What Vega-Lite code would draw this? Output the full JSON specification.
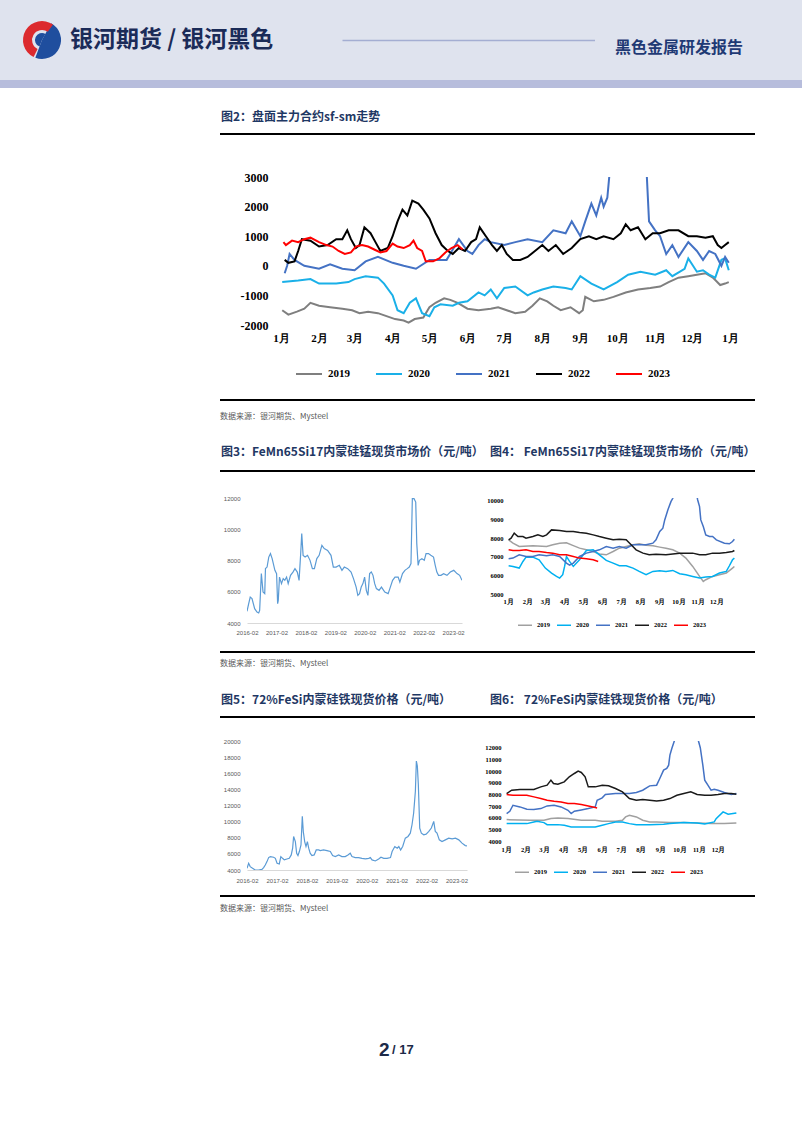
{
"$schema": "https://vega.github.io/schema/vega-lite/v6.json",
"padding": 0,
"background": "#ffffff",
"config": {
  "view": {"stroke": null},
  "axis": {"grid": false, "ticks": false, "domain": false, "labelOverlap": false, "labelFlush": false, "labelBound": false},
  "legend": {"padding": 0},
  "title": {"frame": "group", "anchor": "start", "orient": "top", "font": "Noto Sans CJK SC", "fontWeight": "normal"},
  "font": "Liberation Sans"
},
"resolve": {"scale": {"color": "independent"}},
"datasets": {
"sfsm": [
{"s":"2019","d":"2019-01-02","v":-1500},{"s":"2019","d":"2019-01-07","v":-1650},{"s":"2019","d":"2019-01-14","v":-1550},{"s":"2019","d":"2019-01-20","v":-1450},{"s":"2019","d":"2019-01-25","v":-1250},{"s":"2019","d":"2019-02-01","v":-1350},{"s":"2019","d":"2019-02-10","v":-1400},{"s":"2019","d":"2019-02-20","v":-1450},{"s":"2019","d":"2019-02-28","v":-1500},{"s":"2019","d":"2019-03-05","v":-1600},{"s":"2019","d":"2019-03-12","v":-1550},{"s":"2019","d":"2019-03-20","v":-1600},{"s":"2019","d":"2019-03-27","v":-1700},{"s":"2019","d":"2019-04-03","v":-1800},{"s":"2019","d":"2019-04-10","v":-1850},{"s":"2019","d":"2019-04-14","v":-1920},{"s":"2019","d":"2019-04-19","v":-1800},{"s":"2019","d":"2019-04-26","v":-1750},{"s":"2019","d":"2019-05-01","v":-1400},{"s":"2019","d":"2019-05-06","v":-1250},{"s":"2019","d":"2019-05-13","v":-1100},{"s":"2019","d":"2019-05-18","v":-1150},{"s":"2019","d":"2019-05-24","v":-1250},{"s":"2019","d":"2019-06-01","v":-1450},{"s":"2019","d":"2019-06-10","v":-1500},{"s":"2019","d":"2019-06-20","v":-1450},{"s":"2019","d":"2019-06-26","v":-1400},{"s":"2019","d":"2019-07-03","v":-1500},{"s":"2019","d":"2019-07-10","v":-1600},{"s":"2019","d":"2019-07-18","v":-1550},{"s":"2019","d":"2019-07-24","v":-1350},{"s":"2019","d":"2019-07-30","v":-1100},{"s":"2019","d":"2019-08-05","v":-1200},{"s":"2019","d":"2019-08-10","v":-1350},{"s":"2019","d":"2019-08-16","v":-1500},{"s":"2019","d":"2019-08-24","v":-1400},{"s":"2019","d":"2019-08-31","v":-1600},{"s":"2019","d":"2019-09-03","v":-1500},{"s":"2019","d":"2019-09-05","v":-1050},{"s":"2019","d":"2019-09-12","v":-1200},{"s":"2019","d":"2019-09-20","v":-1150},{"s":"2019","d":"2019-09-28","v":-1050},{"s":"2019","d":"2019-10-08","v":-900},{"s":"2019","d":"2019-10-18","v":-800},{"s":"2019","d":"2019-10-28","v":-750},{"s":"2019","d":"2019-11-05","v":-700},{"s":"2019","d":"2019-11-12","v":-550},{"s":"2019","d":"2019-11-20","v":-400},{"s":"2019","d":"2019-11-28","v":-350},{"s":"2019","d":"2019-12-05","v":-300},{"s":"2019","d":"2019-12-12","v":-250},{"s":"2019","d":"2019-12-18","v":-400},{"s":"2019","d":"2019-12-24","v":-650},{"s":"2019","d":"2019-12-28","v":-600},{"s":"2019","d":"2019-12-31","v":-550},
{"s":"2020","d":"2020-01-02","v":-550},{"s":"2020","d":"2020-01-15","v":-500},{"s":"2020","d":"2020-01-25","v":-450},{"s":"2020","d":"2020-02-01","v":-600},{"s":"2020","d":"2020-02-15","v":-600},{"s":"2020","d":"2020-02-25","v":-550},{"s":"2020","d":"2020-03-01","v":-450},{"s":"2020","d":"2020-03-10","v":-350},{"s":"2020","d":"2020-03-20","v":-400},{"s":"2020","d":"2020-03-25","v":-600},{"s":"2020","d":"2020-04-01","v":-1000},{"s":"2020","d":"2020-04-05","v":-1500},{"s":"2020","d":"2020-04-10","v":-1600},{"s":"2020","d":"2020-04-15","v":-1250},{"s":"2020","d":"2020-04-20","v":-1100},{"s":"2020","d":"2020-04-25","v":-1600},{"s":"2020","d":"2020-05-01","v":-1700},{"s":"2020","d":"2020-05-05","v":-1400},{"s":"2020","d":"2020-05-10","v":-1300},{"s":"2020","d":"2020-05-20","v":-1350},{"s":"2020","d":"2020-05-25","v":-1250},{"s":"2020","d":"2020-06-01","v":-1200},{"s":"2020","d":"2020-06-10","v":-900},{"s":"2020","d":"2020-06-15","v":-1000},{"s":"2020","d":"2020-06-20","v":-800},{"s":"2020","d":"2020-06-25","v":-1100},{"s":"2020","d":"2020-07-01","v":-750},{"s":"2020","d":"2020-07-10","v":-700},{"s":"2020","d":"2020-07-20","v":-1000},{"s":"2020","d":"2020-07-25","v":-900},{"s":"2020","d":"2020-08-01","v":-800},{"s":"2020","d":"2020-08-10","v":-700},{"s":"2020","d":"2020-08-20","v":-750},{"s":"2020","d":"2020-08-25","v":-800},{"s":"2020","d":"2020-09-01","v":-350},{"s":"2020","d":"2020-09-10","v":-600},{"s":"2020","d":"2020-09-20","v":-800},{"s":"2020","d":"2020-10-01","v":-550},{"s":"2020","d":"2020-10-10","v":-300},{"s":"2020","d":"2020-10-20","v":-200},{"s":"2020","d":"2020-11-01","v":-300},{"s":"2020","d":"2020-11-10","v":-150},{"s":"2020","d":"2020-11-15","v":-350},{"s":"2020","d":"2020-11-25","v":-100},{"s":"2020","d":"2020-11-28","v":250},{"s":"2020","d":"2020-12-05","v":-200},{"s":"2020","d":"2020-12-10","v":-150},{"s":"2020","d":"2020-12-15","v":-300},{"s":"2020","d":"2020-12-20","v":-400},{"s":"2020","d":"2020-12-25","v":200},{"s":"2020","d":"2020-12-28","v":250},{"s":"2020","d":"2020-12-31","v":-150},
{"s":"2021","d":"2021-01-04","v":-250},{"s":"2021","d":"2021-01-06","v":0},{"s":"2021","d":"2021-01-08","v":400},{"s":"2021","d":"2021-01-12","v":200},{"s":"2021","d":"2021-01-20","v":0},{"s":"2021","d":"2021-02-01","v":-100},{"s":"2021","d":"2021-02-10","v":50},{"s":"2021","d":"2021-02-20","v":-100},{"s":"2021","d":"2021-03-01","v":-150},{"s":"2021","d":"2021-03-10","v":150},{"s":"2021","d":"2021-03-20","v":300},{"s":"2021","d":"2021-04-01","v":100},{"s":"2021","d":"2021-04-10","v":0},{"s":"2021","d":"2021-04-20","v":-100},{"s":"2021","d":"2021-05-01","v":200},{"s":"2021","d":"2021-05-15","v":200},{"s":"2021","d":"2021-05-25","v":900},{"s":"2021","d":"2021-06-01","v":500},{"s":"2021","d":"2021-06-05","v":400},{"s":"2021","d":"2021-06-10","v":700},{"s":"2021","d":"2021-06-15","v":900},{"s":"2021","d":"2021-06-20","v":800},{"s":"2021","d":"2021-07-01","v":700},{"s":"2021","d":"2021-07-10","v":800},{"s":"2021","d":"2021-07-20","v":900},{"s":"2021","d":"2021-08-01","v":800},{"s":"2021","d":"2021-08-10","v":1200},{"s":"2021","d":"2021-08-20","v":1100},{"s":"2021","d":"2021-08-25","v":1500},{"s":"2021","d":"2021-09-01","v":1000},{"s":"2021","d":"2021-09-05","v":1500},{"s":"2021","d":"2021-09-10","v":2100},{"s":"2021","d":"2021-09-14","v":1700},{"s":"2021","d":"2021-09-18","v":2300},{"s":"2021","d":"2021-09-20","v":2000},{"s":"2021","d":"2021-09-23","v":2300},{"s":"2021","d":"2021-09-25","v":3200},{"s":"2021","d":"2021-10-10","v":5500},{"s":"2021","d":"2021-10-20","v":5000},{"s":"2021","d":"2021-10-25","v":3200},{"s":"2021","d":"2021-10-27","v":1500},{"s":"2021","d":"2021-11-01","v":1200},{"s":"2021","d":"2021-11-05","v":1000},{"s":"2021","d":"2021-11-10","v":400},{"s":"2021","d":"2021-11-15","v":700},{"s":"2021","d":"2021-11-20","v":300},{"s":"2021","d":"2021-11-28","v":800},{"s":"2021","d":"2021-12-05","v":500},{"s":"2021","d":"2021-12-10","v":200},{"s":"2021","d":"2021-12-15","v":500},{"s":"2021","d":"2021-12-20","v":400},{"s":"2021","d":"2021-12-25","v":0},{"s":"2021","d":"2021-12-28","v":300},{"s":"2021","d":"2021-12-31","v":100},
{"s":"2022","d":"2022-01-04","v":200},{"s":"2022","d":"2022-01-07","v":100},{"s":"2022","d":"2022-01-12","v":150},{"s":"2022","d":"2022-01-15","v":500},{"s":"2022","d":"2022-01-18","v":900},{"s":"2022","d":"2022-01-25","v":850},{"s":"2022","d":"2022-02-01","v":650},{"s":"2022","d":"2022-02-08","v":700},{"s":"2022","d":"2022-02-15","v":900},{"s":"2022","d":"2022-02-20","v":900},{"s":"2022","d":"2022-02-24","v":1200},{"s":"2022","d":"2022-02-27","v":900},{"s":"2022","d":"2022-03-02","v":600},{"s":"2022","d":"2022-03-05","v":700},{"s":"2022","d":"2022-03-09","v":1300},{"s":"2022","d":"2022-03-14","v":1100},{"s":"2022","d":"2022-03-18","v":800},{"s":"2022","d":"2022-03-22","v":500},{"s":"2022","d":"2022-03-28","v":600},{"s":"2022","d":"2022-04-01","v":1000},{"s":"2022","d":"2022-04-05","v":1500},{"s":"2022","d":"2022-04-09","v":1900},{"s":"2022","d":"2022-04-13","v":1700},{"s":"2022","d":"2022-04-17","v":2200},{"s":"2022","d":"2022-04-22","v":2100},{"s":"2022","d":"2022-04-26","v":1900},{"s":"2022","d":"2022-05-01","v":1600},{"s":"2022","d":"2022-05-06","v":1100},{"s":"2022","d":"2022-05-11","v":700},{"s":"2022","d":"2022-05-16","v":500},{"s":"2022","d":"2022-05-20","v":400},{"s":"2022","d":"2022-05-25","v":600},{"s":"2022","d":"2022-05-30","v":500},{"s":"2022","d":"2022-06-04","v":800},{"s":"2022","d":"2022-06-08","v":900},{"s":"2022","d":"2022-06-11","v":1300},{"s":"2022","d":"2022-06-16","v":1000},{"s":"2022","d":"2022-06-21","v":700},{"s":"2022","d":"2022-06-25","v":500},{"s":"2022","d":"2022-06-29","v":700},{"s":"2022","d":"2022-07-03","v":400},{"s":"2022","d":"2022-07-08","v":200},{"s":"2022","d":"2022-07-14","v":200},{"s":"2022","d":"2022-07-20","v":300},{"s":"2022","d":"2022-07-26","v":500},{"s":"2022","d":"2022-08-01","v":700},{"s":"2022","d":"2022-08-06","v":500},{"s":"2022","d":"2022-08-12","v":700},{"s":"2022","d":"2022-08-18","v":400},{"s":"2022","d":"2022-08-25","v":600},{"s":"2022","d":"2022-09-01","v":900},{"s":"2022","d":"2022-09-08","v":1000},{"s":"2022","d":"2022-09-14","v":900},{"s":"2022","d":"2022-09-20","v":1000},{"s":"2022","d":"2022-09-28","v":900},{"s":"2022","d":"2022-10-04","v":1100},{"s":"2022","d":"2022-10-08","v":1400},{"s":"2022","d":"2022-10-12","v":1200},{"s":"2022","d":"2022-10-18","v":1300},{"s":"2022","d":"2022-10-24","v":900},{"s":"2022","d":"2022-10-30","v":1100},{"s":"2022","d":"2022-11-05","v":1100},{"s":"2022","d":"2022-11-12","v":1200},{"s":"2022","d":"2022-11-20","v":1200},{"s":"2022","d":"2022-11-28","v":1000},{"s":"2022","d":"2022-12-05","v":1000},{"s":"2022","d":"2022-12-12","v":950},{"s":"2022","d":"2022-12-18","v":1000},{"s":"2022","d":"2022-12-22","v":700},{"s":"2022","d":"2022-12-25","v":600},{"s":"2022","d":"2022-12-28","v":700},{"s":"2022","d":"2022-12-31","v":800},
{"s":"2023","d":"2023-01-03","v":800},{"s":"2023","d":"2023-01-05","v":700},{"s":"2023","d":"2023-01-10","v":850},{"s":"2023","d":"2023-01-15","v":800},{"s":"2023","d":"2023-01-20","v":900},{"s":"2023","d":"2023-01-25","v":950},{"s":"2023","d":"2023-02-01","v":800},{"s":"2023","d":"2023-02-07","v":700},{"s":"2023","d":"2023-02-12","v":650},{"s":"2023","d":"2023-02-17","v":500},{"s":"2023","d":"2023-02-22","v":400},{"s":"2023","d":"2023-02-27","v":450},{"s":"2023","d":"2023-03-02","v":650},{"s":"2023","d":"2023-03-07","v":700},{"s":"2023","d":"2023-03-12","v":650},{"s":"2023","d":"2023-03-17","v":550},{"s":"2023","d":"2023-03-22","v":450},{"s":"2023","d":"2023-03-27","v":500},{"s":"2023","d":"2023-04-01","v":750},{"s":"2023","d":"2023-04-05","v":650},{"s":"2023","d":"2023-04-10","v":600},{"s":"2023","d":"2023-04-15","v":700},{"s":"2023","d":"2023-04-18","v":850},{"s":"2023","d":"2023-04-21","v":600},{"s":"2023","d":"2023-04-25","v":500},{"s":"2023","d":"2023-04-28","v":150},{"s":"2023","d":"2023-05-04","v":150},{"s":"2023","d":"2023-05-09","v":250},{"s":"2023","d":"2023-05-14","v":450},{"s":"2023","d":"2023-05-19","v":600},{"s":"2023","d":"2023-05-24","v":700},{"s":"2023","d":"2023-05-28","v":550}
],
"mnspot": [
{"d":"2016-02-01","v":4750},{"d":"2016-02-22","v":5240},{"d":"2016-03-12","v":5660},{"d":"2016-04-03","v":5560},{"d":"2016-05-06","v":4920},{"d":"2016-06-04","v":4700},{"d":"2016-06-25","v":4640},{"d":"2016-07-07","v":4810},{"d":"2016-07-28","v":7160},{"d":"2016-08-18","v":5980},{"d":"2016-09-08","v":5880},{"d":"2016-09-17","v":7480},{"d":"2016-10-07","v":7580},{"d":"2016-10-28","v":8220},{"d":"2016-11-18","v":8440},{"d":"2016-12-09","v":8120},{"d":"2017-01-12","v":7370},{"d":"2017-02-02","v":7160},{"d":"2017-02-15","v":5240},{"d":"2017-02-23","v":5450},{"d":"2017-03-10","v":6940},{"d":"2017-04-04","v":6520},{"d":"2017-04-25","v":6840},{"d":"2017-05-15","v":6730},{"d":"2017-06-06","v":6940},{"d":"2017-06-26","v":6520},{"d":"2017-07-25","v":7050},{"d":"2017-08-24","v":7260},{"d":"2017-09-18","v":7480},{"d":"2017-10-17","v":7260},{"d":"2017-11-08","v":6730},{"d":"2017-11-28","v":8440},{"d":"2017-12-11","v":9720},{"d":"2017-12-28","v":8330},{"d":"2018-01-22","v":8220},{"d":"2018-02-21","v":8330},{"d":"2018-03-24","v":8010},{"d":"2018-04-22","v":7480},{"d":"2018-05-17","v":7480},{"d":"2018-06-16","v":8120},{"d":"2018-07-15","v":8330},{"d":"2018-08-18","v":8970},{"d":"2018-09-16","v":8760},{"d":"2018-10-28","v":8650},{"d":"2018-12-09","v":8330},{"d":"2019-01-07","v":7580},{"d":"2019-02-10","v":7580},{"d":"2019-03-22","v":7690},{"d":"2019-04-24","v":7370},{"d":"2019-05-23","v":7580},{"d":"2019-07-04","v":7480},{"d":"2019-08-15","v":7260},{"d":"2019-09-14","v":6840},{"d":"2019-10-17","v":6300},{"d":"2019-11-07","v":5770},{"d":"2019-11-28","v":5880},{"d":"2019-12-19","v":6300},{"d":"2020-01-09","v":6520},{"d":"2020-01-30","v":6940},{"d":"2020-02-20","v":6090},{"d":"2020-03-11","v":5770},{"d":"2020-04-01","v":7160},{"d":"2020-04-22","v":7260},{"d":"2020-05-13","v":7050},{"d":"2020-06-03","v":6520},{"d":"2020-06-24","v":6200},{"d":"2020-07-27","v":6090},{"d":"2020-08-26","v":6300},{"d":"2020-10-06","v":5980},{"d":"2020-11-17","v":5880},{"d":"2020-12-08","v":6200},{"d":"2021-01-11","v":6730},{"d":"2021-02-10","v":6940},{"d":"2021-03-21","v":6940},{"d":"2021-04-11","v":6620},{"d":"2021-05-14","v":7160},{"d":"2021-06-13","v":7370},{"d":"2021-07-12","v":7480},{"d":"2021-08-06","v":7580},{"d":"2021-08-27","v":7800},{"d":"2021-09-13","v":11960},{"d":"2021-10-04","v":11960},{"d":"2021-10-25","v":11740},{"d":"2021-11-07","v":9080},{"d":"2021-11-24","v":7690},{"d":"2021-12-10","v":8010},{"d":"2022-01-09","v":8120},{"d":"2022-02-08","v":8010},{"d":"2022-03-02","v":8440},{"d":"2022-04-01","v":8440},{"d":"2022-04-30","v":8330},{"d":"2022-06-03","v":8220},{"d":"2022-06-24","v":7690},{"d":"2022-07-14","v":7260},{"d":"2022-08-04","v":7050},{"d":"2022-09-03","v":7050},{"d":"2022-10-06","v":7160},{"d":"2022-11-17","v":7050},{"d":"2022-12-28","v":7260},{"d":"2023-02-09","v":7370},{"d":"2023-03-21","v":7160},{"d":"2023-04-23","v":7050},{"d":"2023-05-22","v":6730}
],
"sispot": [
{"d":"2016-02-01","v":4210},{"d":"2016-02-21","v":4830},{"d":"2016-03-11","v":4420},{"d":"2016-04-09","v":4210},{"d":"2016-05-11","v":4000},{"d":"2016-06-21","v":3980},{"d":"2016-08-01","v":4080},{"d":"2016-08-22","v":4290},{"d":"2016-09-11","v":4620},{"d":"2016-10-02","v":5040},{"d":"2016-10-22","v":5540},{"d":"2016-11-12","v":5660},{"d":"2016-12-22","v":5580},{"d":"2017-01-12","v":5450},{"d":"2017-02-02","v":4830},{"d":"2017-03-01","v":4750},{"d":"2017-03-20","v":5660},{"d":"2017-04-10","v":5450},{"d":"2017-05-01","v":5250},{"d":"2017-06-02","v":5370},{"d":"2017-07-01","v":5450},{"d":"2017-07-25","v":5870},{"d":"2017-08-11","v":6700},{"d":"2017-08-23","v":8160},{"d":"2017-09-13","v":7530},{"d":"2017-09-29","v":6080},{"d":"2017-10-15","v":5790},{"d":"2017-11-01","v":6290},{"d":"2017-11-21","v":7120},{"d":"2017-12-07","v":10650},{"d":"2017-12-19","v":8780},{"d":"2018-01-05","v":7530},{"d":"2018-01-21","v":6910},{"d":"2018-02-07","v":7530},{"d":"2018-02-23","v":6700},{"d":"2018-03-13","v":6080},{"d":"2018-04-03","v":5790},{"d":"2018-05-01","v":5870},{"d":"2018-05-26","v":6490},{"d":"2018-06-24","v":6490},{"d":"2018-07-14","v":6410},{"d":"2018-08-24","v":6490},{"d":"2018-10-04","v":6410},{"d":"2018-11-14","v":6290},{"d":"2018-12-12","v":5790},{"d":"2019-01-14","v":5660},{"d":"2019-02-24","v":5870},{"d":"2019-04-04","v":5660},{"d":"2019-05-15","v":5660},{"d":"2019-06-17","v":5870},{"d":"2019-07-15","v":6080},{"d":"2019-08-05","v":5660},{"d":"2019-09-15","v":5540},{"d":"2019-10-25","v":5540},{"d":"2019-12-05","v":5450},{"d":"2020-01-16","v":5370},{"d":"2020-02-26","v":5450},{"d":"2020-03-16","v":5540},{"d":"2020-04-06","v":5250},{"d":"2020-05-16","v":5120},{"d":"2020-06-26","v":5370},{"d":"2020-07-24","v":5580},{"d":"2020-08-27","v":5450},{"d":"2020-10-06","v":5450},{"d":"2020-11-17","v":5540},{"d":"2020-12-07","v":6290},{"d":"2021-01-09","v":6910},{"d":"2021-02-07","v":6700},{"d":"2021-02-27","v":6910},{"d":"2021-03-21","v":6490},{"d":"2021-04-15","v":6910},{"d":"2021-05-17","v":7950},{"d":"2021-06-19","v":8160},{"d":"2021-07-17","v":8570},{"d":"2021-08-07","v":9610},{"d":"2021-08-27","v":11070},{"d":"2021-09-17","v":13770},{"d":"2021-09-29","v":17510},{"d":"2021-10-11","v":16880},{"d":"2021-10-23","v":14600},{"d":"2021-11-09","v":9200},{"d":"2021-11-29","v":8570},{"d":"2021-12-28","v":8360},{"d":"2022-01-26","v":8450},{"d":"2022-02-28","v":8780},{"d":"2022-03-31","v":9200},{"d":"2022-04-29","v":10030},{"d":"2022-05-18","v":8780},{"d":"2022-06-08","v":8570},{"d":"2022-07-06","v":7740},{"d":"2022-08-08","v":7530},{"d":"2022-09-18","v":7740},{"d":"2022-10-29","v":7950},{"d":"2022-12-09","v":7870},{"d":"2023-01-19","v":7950},{"d":"2023-03-01","v":7740},{"d":"2023-04-09","v":7330},{"d":"2023-05-19","v":7030},{"d":"2023-06-09","v":6990}
],
"mnseason": [
{"s":"2019","d":"2019-01-02","v":7911},{"s":"2019","d":"2019-01-09","v":7732},{"s":"2019","d":"2019-01-19","v":7554},{"s":"2019","d":"2019-02-10","v":7589},{"s":"2019","d":"2019-03-03","v":7554},{"s":"2019","d":"2019-03-13","v":7643},{"s":"2019","d":"2019-03-24","v":7732},{"s":"2019","d":"2019-04-04","v":7750},{"s":"2019","d":"2019-04-15","v":7600},{"s":"2019","d":"2019-04-25","v":7464},{"s":"2019","d":"2019-05-06","v":7375},{"s":"2019","d":"2019-05-17","v":7286},{"s":"2019","d":"2019-05-27","v":7150},{"s":"2019","d":"2019-06-07","v":7107},{"s":"2019","d":"2019-06-18","v":7286},{"s":"2019","d":"2019-06-28","v":7464},{"s":"2019","d":"2019-07-09","v":7554},{"s":"2019","d":"2019-07-20","v":7643},{"s":"2019","d":"2019-07-30","v":7696},{"s":"2019","d":"2019-08-10","v":7620},{"s":"2019","d":"2019-08-21","v":7589},{"s":"2019","d":"2019-09-01","v":7520},{"s":"2019","d":"2019-09-11","v":7464},{"s":"2019","d":"2019-09-22","v":7375},{"s":"2019","d":"2019-10-03","v":7196},{"s":"2019","d":"2019-10-13","v":6929},{"s":"2019","d":"2019-10-24","v":6482},{"s":"2019","d":"2019-11-04","v":5946},{"s":"2019","d":"2019-11-10","v":5679},{"s":"2019","d":"2019-11-14","v":5768},{"s":"2019","d":"2019-11-25","v":5946},{"s":"2019","d":"2019-12-06","v":6036},{"s":"2019","d":"2019-12-17","v":6125},{"s":"2019","d":"2019-12-27","v":6393},{"s":"2019","d":"2019-12-30","v":6480},
{"s":"2020","d":"2020-01-02","v":6518},{"s":"2020","d":"2020-01-09","v":6480},{"s":"2020","d":"2020-01-19","v":6393},{"s":"2020","d":"2020-01-25","v":6750},{"s":"2020","d":"2020-01-30","v":6982},{"s":"2020","d":"2020-02-10","v":6982},{"s":"2020","d":"2020-02-20","v":6839},{"s":"2020","d":"2020-03-01","v":6393},{"s":"2020","d":"2020-03-11","v":6125},{"s":"2020","d":"2020-03-19","v":5946},{"s":"2020","d":"2020-03-24","v":5857},{"s":"2020","d":"2020-03-29","v":6036},{"s":"2020","d":"2020-04-01","v":6482},{"s":"2020","d":"2020-04-04","v":7018},{"s":"2020","d":"2020-04-09","v":6750},{"s":"2020","d":"2020-04-15","v":6482},{"s":"2020","d":"2020-04-25","v":6839},{"s":"2020","d":"2020-05-06","v":7339},{"s":"2020","d":"2020-05-17","v":7375},{"s":"2020","d":"2020-05-27","v":7107},{"s":"2020","d":"2020-06-07","v":6804},{"s":"2020","d":"2020-06-18","v":6661},{"s":"2020","d":"2020-06-28","v":6518},{"s":"2020","d":"2020-07-09","v":6518},{"s":"2020","d":"2020-07-20","v":6393},{"s":"2020","d":"2020-07-30","v":6214},{"s":"2020","d":"2020-08-10","v":6036},{"s":"2020","d":"2020-08-21","v":6214},{"s":"2020","d":"2020-09-01","v":6250},{"s":"2020","d":"2020-09-11","v":6214},{"s":"2020","d":"2020-09-22","v":6268},{"s":"2020","d":"2020-10-03","v":6089},{"s":"2020","d":"2020-10-13","v":6036},{"s":"2020","d":"2020-10-24","v":5946},{"s":"2020","d":"2020-11-04","v":5857},{"s":"2020","d":"2020-11-14","v":5911},{"s":"2020","d":"2020-11-25","v":5946},{"s":"2020","d":"2020-12-06","v":6125},{"s":"2020","d":"2020-12-17","v":6214},{"s":"2020","d":"2020-12-22","v":6518},{"s":"2020","d":"2020-12-27","v":6839},{"s":"2020","d":"2020-12-30","v":6929},
{"s":"2021","d":"2021-01-02","v":6893},{"s":"2021","d":"2021-01-09","v":6929},{"s":"2021","d":"2021-01-19","v":7107},{"s":"2021","d":"2021-01-30","v":7018},{"s":"2021","d":"2021-02-10","v":7018},{"s":"2021","d":"2021-02-20","v":7107},{"s":"2021","d":"2021-03-03","v":7054},{"s":"2021","d":"2021-03-13","v":7107},{"s":"2021","d":"2021-03-24","v":7018},{"s":"2021","d":"2021-04-04","v":6661},{"s":"2021","d":"2021-04-09","v":6554},{"s":"2021","d":"2021-04-15","v":6661},{"s":"2021","d":"2021-04-25","v":7018},{"s":"2021","d":"2021-05-06","v":7196},{"s":"2021","d":"2021-05-17","v":7286},{"s":"2021","d":"2021-05-27","v":7375},{"s":"2021","d":"2021-06-07","v":7554},{"s":"2021","d":"2021-06-18","v":7464},{"s":"2021","d":"2021-06-28","v":7554},{"s":"2021","d":"2021-07-09","v":7464},{"s":"2021","d":"2021-07-20","v":7643},{"s":"2021","d":"2021-07-30","v":7643},{"s":"2021","d":"2021-08-10","v":7643},{"s":"2021","d":"2021-08-21","v":7732},{"s":"2021","d":"2021-08-26","v":7911},{"s":"2021","d":"2021-09-01","v":8357},{"s":"2021","d":"2021-09-06","v":8536},{"s":"2021","d":"2021-09-09","v":8982},{"s":"2021","d":"2021-09-14","v":9518},{"s":"2021","d":"2021-09-19","v":9964},{"s":"2021","d":"2021-09-22","v":10143},{"s":"2021","d":"2021-10-03","v":11500},{"s":"2021","d":"2021-10-13","v":12500},{"s":"2021","d":"2021-10-24","v":11500},{"s":"2021","d":"2021-11-01","v":10054},{"s":"2021","d":"2021-11-04","v":9696},{"s":"2021","d":"2021-11-06","v":8982},{"s":"2021","d":"2021-11-10","v":8625},{"s":"2021","d":"2021-11-14","v":8179},{"s":"2021","d":"2021-11-20","v":8089},{"s":"2021","d":"2021-11-25","v":8089},{"s":"2021","d":"2021-12-01","v":7911},{"s":"2021","d":"2021-12-14","v":7732},{"s":"2021","d":"2021-12-22","v":7700},{"s":"2021","d":"2021-12-27","v":7821},{"s":"2021","d":"2021-12-30","v":7946},
{"s":"2022","d":"2022-01-02","v":7911},{"s":"2022","d":"2022-01-06","v":8000},{"s":"2022","d":"2022-01-11","v":8268},{"s":"2022","d":"2022-01-17","v":8089},{"s":"2022","d":"2022-01-25","v":8089},{"s":"2022","d":"2022-01-30","v":8000},{"s":"2022","d":"2022-02-10","v":8089},{"s":"2022","d":"2022-02-18","v":8179},{"s":"2022","d":"2022-02-26","v":8089},{"s":"2022","d":"2022-03-03","v":8179},{"s":"2022","d":"2022-03-11","v":8446},{"s":"2022","d":"2022-03-24","v":8411},{"s":"2022","d":"2022-04-04","v":8357},{"s":"2022","d":"2022-04-15","v":8357},{"s":"2022","d":"2022-04-25","v":8304},{"s":"2022","d":"2022-05-06","v":8268},{"s":"2022","d":"2022-05-17","v":8179},{"s":"2022","d":"2022-05-27","v":8089},{"s":"2022","d":"2022-06-07","v":8000},{"s":"2022","d":"2022-06-18","v":7911},{"s":"2022","d":"2022-06-28","v":7946},{"s":"2022","d":"2022-07-09","v":7911},{"s":"2022","d":"2022-07-17","v":7643},{"s":"2022","d":"2022-07-25","v":7375},{"s":"2022","d":"2022-08-05","v":7196},{"s":"2022","d":"2022-08-15","v":7107},{"s":"2022","d":"2022-08-26","v":7143},{"s":"2022","d":"2022-09-11","v":7107},{"s":"2022","d":"2022-10-03","v":7196},{"s":"2022","d":"2022-10-13","v":7196},{"s":"2022","d":"2022-10-24","v":7196},{"s":"2022","d":"2022-11-04","v":7107},{"s":"2022","d":"2022-11-14","v":7107},{"s":"2022","d":"2022-11-25","v":7196},{"s":"2022","d":"2022-12-06","v":7196},{"s":"2022","d":"2022-12-17","v":7232},{"s":"2022","d":"2022-12-27","v":7286},{"s":"2022","d":"2022-12-30","v":7339},
{"s":"2023","d":"2023-01-02","v":7375},{"s":"2023","d":"2023-01-09","v":7339},{"s":"2023","d":"2023-01-19","v":7339},{"s":"2023","d":"2023-01-30","v":7375},{"s":"2023","d":"2023-02-10","v":7286},{"s":"2023","d":"2023-02-20","v":7286},{"s":"2023","d":"2023-03-03","v":7232},{"s":"2023","d":"2023-03-13","v":7196},{"s":"2023","d":"2023-03-24","v":7107},{"s":"2023","d":"2023-04-04","v":7107},{"s":"2023","d":"2023-04-15","v":7018},{"s":"2023","d":"2023-04-25","v":6929},{"s":"2023","d":"2023-05-06","v":6893},{"s":"2023","d":"2023-05-17","v":6839},{"s":"2023","d":"2023-05-25","v":6750}
],
"siseason": [
{"s":"2019","d":"2019-01-02","v":5835},{"s":"2019","d":"2019-02-08","v":5778},{"s":"2019","d":"2019-03-01","v":5778},{"s":"2019","d":"2019-03-12","v":5921},{"s":"2019","d":"2019-03-23","v":5978},{"s":"2019","d":"2019-04-08","v":5921},{"s":"2019","d":"2019-04-29","v":5778},{"s":"2019","d":"2019-05-21","v":5778},{"s":"2019","d":"2019-06-01","v":5692},{"s":"2019","d":"2019-06-22","v":5692},{"s":"2019","d":"2019-07-03","v":5778},{"s":"2019","d":"2019-07-08","v":6065},{"s":"2019","d":"2019-07-14","v":6208},{"s":"2019","d":"2019-07-25","v":6065},{"s":"2019","d":"2019-08-04","v":5778},{"s":"2019","d":"2019-08-15","v":5634},{"s":"2019","d":"2019-08-26","v":5634},{"s":"2019","d":"2019-09-16","v":5577},{"s":"2019","d":"2019-10-08","v":5577},{"s":"2019","d":"2019-10-29","v":5548},{"s":"2019","d":"2019-11-20","v":5491},{"s":"2019","d":"2019-12-11","v":5491},{"s":"2019","d":"2019-12-30","v":5548},
{"s":"2020","d":"2020-01-02","v":5491},{"s":"2020","d":"2020-02-03","v":5491},{"s":"2020","d":"2020-02-14","v":5634},{"s":"2020","d":"2020-02-19","v":5692},{"s":"2020","d":"2020-03-01","v":5577},{"s":"2020","d":"2020-03-06","v":5405},{"s":"2020","d":"2020-03-23","v":5405},{"s":"2020","d":"2020-04-02","v":5348},{"s":"2020","d":"2020-04-13","v":5204},{"s":"2020","d":"2020-05-21","v":5204},{"s":"2020","d":"2020-06-01","v":5348},{"s":"2020","d":"2020-06-11","v":5491},{"s":"2020","d":"2020-06-22","v":5634},{"s":"2020","d":"2020-07-03","v":5634},{"s":"2020","d":"2020-07-14","v":5491},{"s":"2020","d":"2020-07-25","v":5405},{"s":"2020","d":"2020-08-15","v":5405},{"s":"2020","d":"2020-09-06","v":5434},{"s":"2020","d":"2020-09-16","v":5491},{"s":"2020","d":"2020-10-08","v":5577},{"s":"2020","d":"2020-10-29","v":5548},{"s":"2020","d":"2020-11-10","v":5462},{"s":"2020","d":"2020-11-25","v":5634},{"s":"2020","d":"2020-11-28","v":5921},{"s":"2020","d":"2020-12-09","v":6495},{"s":"2020","d":"2020-12-17","v":6294},{"s":"2020","d":"2020-12-30","v":6409},
{"s":"2021","d":"2021-01-02","v":6351},{"s":"2021","d":"2021-01-07","v":6552},{"s":"2021","d":"2021-01-12","v":7068},{"s":"2021","d":"2021-01-23","v":6925},{"s":"2021","d":"2021-02-03","v":6724},{"s":"2021","d":"2021-02-14","v":6695},{"s":"2021","d":"2021-02-25","v":6781},{"s":"2021","d":"2021-03-06","v":7011},{"s":"2021","d":"2021-03-17","v":7068},{"s":"2021","d":"2021-03-28","v":6925},{"s":"2021","d":"2021-04-08","v":6638},{"s":"2021","d":"2021-04-13","v":6351},{"s":"2021","d":"2021-04-18","v":6552},{"s":"2021","d":"2021-04-29","v":6667},{"s":"2021","d":"2021-05-10","v":6781},{"s":"2021","d":"2021-05-21","v":6925},{"s":"2021","d":"2021-05-24","v":7498},{"s":"2021","d":"2021-06-01","v":7699},{"s":"2021","d":"2021-06-06","v":7986},{"s":"2021","d":"2021-06-22","v":8072},{"s":"2021","d":"2021-07-14","v":8072},{"s":"2021","d":"2021-07-25","v":8158},{"s":"2021","d":"2021-08-04","v":8358},{"s":"2021","d":"2021-08-15","v":8731},{"s":"2021","d":"2021-08-26","v":8789},{"s":"2021","d":"2021-08-31","v":9362},{"s":"2021","d":"2021-09-06","v":10079},{"s":"2021","d":"2021-09-11","v":10222},{"s":"2021","d":"2021-09-14","v":10509},{"s":"2021","d":"2021-09-16","v":11369},{"s":"2021","d":"2021-09-19","v":11943},{"s":"2021","d":"2021-10-08","v":15000},{"s":"2021","d":"2021-10-29","v":13000},{"s":"2021","d":"2021-11-03","v":12000},{"s":"2021","d":"2021-11-07","v":10509},{"s":"2021","d":"2021-11-10","v":9219},{"s":"2021","d":"2021-11-15","v":8789},{"s":"2021","d":"2021-11-20","v":8358},{"s":"2021","d":"2021-11-25","v":8444},{"s":"2021","d":"2021-12-01","v":8358},{"s":"2021","d":"2021-12-11","v":8158},{"s":"2021","d":"2021-12-22","v":7986},{"s":"2021","d":"2021-12-30","v":8072},
{"s":"2022","d":"2022-01-02","v":8072},{"s":"2022","d":"2022-01-10","v":8358},{"s":"2022","d":"2022-01-23","v":8416},{"s":"2022","d":"2022-02-14","v":8416},{"s":"2022","d":"2022-02-25","v":8645},{"s":"2022","d":"2022-03-06","v":8789},{"s":"2022","d":"2022-03-12","v":9219},{"s":"2022","d":"2022-03-16","v":8932},{"s":"2022","d":"2022-03-23","v":8875},{"s":"2022","d":"2022-04-02","v":9075},{"s":"2022","d":"2022-04-10","v":9505},{"s":"2022","d":"2022-04-18","v":9792},{"s":"2022","d":"2022-04-24","v":9993},{"s":"2022","d":"2022-04-29","v":9878},{"s":"2022","d":"2022-05-05","v":9505},{"s":"2022","d":"2022-05-10","v":8645},{"s":"2022","d":"2022-05-21","v":8645},{"s":"2022","d":"2022-06-01","v":8789},{"s":"2022","d":"2022-06-11","v":8731},{"s":"2022","d":"2022-06-22","v":8502},{"s":"2022","d":"2022-07-03","v":8215},{"s":"2022","d":"2022-07-14","v":7642},{"s":"2022","d":"2022-07-25","v":7498},{"s":"2022","d":"2022-08-04","v":7556},{"s":"2022","d":"2022-08-26","v":7441},{"s":"2022","d":"2022-09-06","v":7498},{"s":"2022","d":"2022-09-16","v":7642},{"s":"2022","d":"2022-09-27","v":7928},{"s":"2022","d":"2022-10-08","v":8072},{"s":"2022","d":"2022-10-19","v":8215},{"s":"2022","d":"2022-10-29","v":7986},{"s":"2022","d":"2022-11-10","v":7928},{"s":"2022","d":"2022-11-20","v":7928},{"s":"2022","d":"2022-12-01","v":7986},{"s":"2022","d":"2022-12-11","v":8072},{"s":"2022","d":"2022-12-22","v":8072},{"s":"2022","d":"2022-12-30","v":8014},
{"s":"2023","d":"2023-01-02","v":7986},{"s":"2023","d":"2023-01-12","v":7928},{"s":"2023","d":"2023-02-03","v":7928},{"s":"2023","d":"2023-02-14","v":7785},{"s":"2023","d":"2023-02-25","v":7642},{"s":"2023","d":"2023-03-06","v":7498},{"s":"2023","d":"2023-03-17","v":7412},{"s":"2023","d":"2023-03-28","v":7355},{"s":"2023","d":"2023-04-08","v":7211},{"s":"2023","d":"2023-04-18","v":7211},{"s":"2023","d":"2023-04-29","v":7125},{"s":"2023","d":"2023-05-10","v":7011},{"s":"2023","d":"2023-05-21","v":6868},{"s":"2023","d":"2023-05-24","v":6839}
]
},
"spacing": 0,
"vconcat": [
{"hconcat": [
  {"width": 84, "height": 80, "view": {"fill": "#dfe3ee"}, "data": {"values": [{"k": 1}]},
   "layer": [
    {"mark": {"type": "arc", "theta": 0.5, "theta2": 3.5, "innerRadius": 0, "outerRadius": 19, "color": "#1f4e9e"}, "encoding": {}},
    {"mark": {"type": "arc", "theta": 3.6, "theta2": 6.9, "innerRadius": 10, "outerRadius": 19, "color": "#dc2a2e"}, "encoding": {}},
    {"mark": {"type": "arc", "theta": 3.5, "theta2": 6.8, "innerRadius": 0, "outerRadius": 7, "color": "#1f4e9e"}, "encoding": {}}
   ]},
  {"width": 258, "height": 80, "view": {"fill": "#dfe3ee"}, "data": {"values": []}, "mark": "point",
   "title": {"text": "银河期货 / 银河黑色", "offset": -52, "dx": -14, "fontSize": 23, "fontWeight": "bold", "color": "#1b2b58"}},
  {"width": 253, "height": 80, "view": {"fill": "#dfe3ee"}, "data": {"values": [{"k": 0}, {"k": 1}]},
   "mark": {"type": "point", "opacity": 0},
   "encoding": {"x": {"field": "k", "type": "quantitative", "axis": {"orient": "bottom", "offset": -40, "domain": true, "domainColor": "#a4aed2", "domainWidth": 1.5, "labels": false, "ticks": false, "grid": false, "title": null}}},
   "title": {"text": "◇", "anchor": "end", "offset": -47, "dx": 10, "font": "DejaVu Sans", "fontSize": 12, "color": "#8e99c4"}},
  {"width": 207, "height": 80, "view": {"fill": "#dfe3ee"}, "data": {"values": []}, "mark": "point",
   "title": {"text": "黑色金属研发报告", "offset": -56, "dx": 20, "fontSize": 16, "fontWeight": "bold", "color": "#1f3a75"}}
 ], "spacing": 0, "bounds": "flush"},
{"width": 802, "height": 8, "view": {"fill": "#b7bddc"}, "data": {"values": []}, "mark": "point"},
{"width": 802, "height": 45, "data": {"values": []}, "mark": "point",
 "title": {"text": "图2：盘面主力合约sf-sm走势", "offset": -36, "dx": 221, "fontSize": 12, "fontWeight": "bold", "color": "#1f3864"}},
{"hconcat": [
  {"width": 220, "height": 2, "data": {"values": []}, "mark": "point"},
  {"width": 535, "height": 2, "view": {"fill": "#000000"}, "data": {"values": []}, "mark": "point"}
 ], "spacing": 0, "bounds": "flush"},
{"width": 1, "height": 36, "data": {"values": []}, "mark": "point"},
{"hconcat": [
  {"width": 281, "height": 222, "data": {"values": []}, "mark": "point"},
  {"width": 449, "height": 148, "data": {"name": "sfsm"},
   "mark": {"type": "line", "strokeWidth": 2, "clip": true},
   "encoding": {
    "x": {"field": "d", "timeUnit": "utcmonthdate", "type": "temporal",
     "scale": {"domain": [{"year": 2012, "month": 1, "date": 1, "utc": true}, {"year": 2013, "month": 1, "date": 1, "utc": true}]},
     "axis": {"title": null, "format": "%-m月", "labelFont": "Liberation Serif", "labelFontWeight": "bold", "labelFontSize": 11, "labelColor": "#000000", "labelPadding": 7,
      "values": [{"year": 2012, "month": 1, "date": 1, "utc": true}, {"year": 2012, "month": 2, "date": 1, "utc": true}, {"year": 2012, "month": 3, "date": 1, "utc": true}, {"year": 2012, "month": 4, "date": 1, "utc": true}, {"year": 2012, "month": 5, "date": 1, "utc": true}, {"year": 2012, "month": 6, "date": 1, "utc": true}, {"year": 2012, "month": 7, "date": 1, "utc": true}, {"year": 2012, "month": 8, "date": 1, "utc": true}, {"year": 2012, "month": 9, "date": 1, "utc": true}, {"year": 2012, "month": 10, "date": 1, "utc": true}, {"year": 2012, "month": 11, "date": 1, "utc": true}, {"year": 2012, "month": 12, "date": 1, "utc": true}, {"year": 2013, "month": 1, "date": 1, "utc": true}]}},
    "y": {"field": "v", "type": "quantitative", "scale": {"domain": [-2000, 3000], "nice": false, "zero": false},
     "axis": {"title": null, "values": [-2000, -1000, 0, 1000, 2000, 3000], "labelExpr": "'' + datum.value", "labelFont": "Liberation Serif", "labelFontWeight": "bold", "labelFontSize": 12, "labelColor": "#000000", "labelPadding": 13}},
    "color": {"field": "s", "type": "nominal",
     "scale": {"domain": ["2019", "2020", "2021", "2022", "2023"], "range": ["#7f7f7f", "#1ab0e8", "#4472c4", "#000000", "#ff0000"]},
     "legend": {"title": null, "orient": "none", "legendX": 14, "legendY": 183, "direction": "horizontal", "symbolType": "stroke", "symbolSize": 676, "symbolStrokeWidth": 2, "labelFont": "Liberation Serif", "labelFontWeight": "bold", "labelFontSize": 11, "labelColor": "#000000", "labelOffset": 5, "columnPadding": 22}}
   }}
 ], "spacing": 0, "bounds": "flush", "resolve": {"scale": {"color": "independent"}}},
{"hconcat": [
  {"width": 220, "height": 2, "data": {"values": []}, "mark": "point"},
  {"width": 535, "height": 2, "view": {"fill": "#000000"}, "data": {"values": []}, "mark": "point"}
 ], "spacing": 0, "bounds": "flush"},
{"width": 802, "height": 30, "data": {"values": []}, "mark": "point",
 "title": {"text": "数据来源：银河期货、Mysteel", "offset": -20, "dx": 220, "fontSize": 8, "color": "#595959"}},
{"hconcat": [
  {"width": 480, "height": 39, "data": {"values": []}, "mark": "point",
   "title": {"text": "图3：FeMn65Si17内蒙硅锰现货市场价（元/吨）", "offset": -28, "dx": 221, "fontSize": 12, "fontWeight": "bold", "color": "#1f3864"}},
  {"width": 322, "height": 39, "data": {"values": []}, "mark": "point",
   "title": {"text": "图4： FeMn65Si17内蒙硅锰现货市场价（元/吨）", "offset": -28, "dx": 10, "fontSize": 12, "fontWeight": "bold", "color": "#1f3864"}}
 ], "spacing": 0, "bounds": "flush"},
{"hconcat": [
  {"width": 220, "height": 2, "data": {"values": []}, "mark": "point"},
  {"width": 535, "height": 2, "view": {"fill": "#000000"}, "data": {"values": []}, "mark": "point"}
 ], "spacing": 0, "bounds": "flush"},
{"width": 1, "height": 23, "data": {"values": []}, "mark": "point"},
{"hconcat": [
  {"width": 247, "height": 153, "data": {"values": []}, "mark": "point"},
  {"width": 215, "height": 125, "data": {"name": "mnspot"},
   "mark": {"type": "line", "strokeWidth": 1.2, "color": "#5b9bd5", "clip": true},
   "encoding": {
    "x": {"field": "d", "type": "temporal",
     "scale": {"type": "utc", "domain": [{"year": 2016, "month": 2, "date": 1, "utc": true}, {"year": 2023, "month": 5, "date": 22, "utc": true}]},
     "axis": {"title": null, "format": "%Y-%m", "labelFont": "Liberation Sans", "labelFontSize": 6, "labelColor": "#595959", "labelPadding": 6, "domain": true, "domainColor": "#d9d9d9", "domainWidth": 1,
      "values": [{"year": 2016, "month": 2, "date": 1, "utc": true}, {"year": 2017, "month": 2, "date": 1, "utc": true}, {"year": 2018, "month": 2, "date": 1, "utc": true}, {"year": 2019, "month": 2, "date": 1, "utc": true}, {"year": 2020, "month": 2, "date": 1, "utc": true}, {"year": 2021, "month": 2, "date": 1, "utc": true}, {"year": 2022, "month": 2, "date": 1, "utc": true}, {"year": 2023, "month": 2, "date": 1, "utc": true}]}},
    "y": {"field": "v", "type": "quantitative", "scale": {"domain": [4000, 12000], "nice": false, "zero": false},
     "axis": {"title": null, "values": [4000, 6000, 8000, 10000, 12000], "labelExpr": "'' + datum.value", "labelFont": "Liberation Sans", "labelFontSize": 6, "labelColor": "#595959", "labelPadding": 7}}
   }},
  {"width": 46, "height": 1, "data": {"values": []}, "mark": "point"},
  {"width": 227, "height": 96, "data": {"name": "mnseason"},
   "mark": {"type": "line", "strokeWidth": 1.5, "clip": true},
   "encoding": {
    "x": {"field": "d", "timeUnit": "utcmonthdate", "type": "temporal",
     "scale": {"domain": [{"year": 2012, "month": 1, "date": 1, "utc": true}, {"year": 2012, "month": 12, "date": 31, "utc": true}]},
     "axis": {"title": null, "format": "%-m月", "labelFont": "Liberation Serif", "labelFontWeight": "bold", "labelFontSize": 6.5, "labelColor": "#000000", "labelPadding": 4,
      "values": [{"year": 2012, "month": 1, "date": 1, "utc": true}, {"year": 2012, "month": 2, "date": 1, "utc": true}, {"year": 2012, "month": 3, "date": 1, "utc": true}, {"year": 2012, "month": 4, "date": 1, "utc": true}, {"year": 2012, "month": 5, "date": 1, "utc": true}, {"year": 2012, "month": 6, "date": 1, "utc": true}, {"year": 2012, "month": 7, "date": 1, "utc": true}, {"year": 2012, "month": 8, "date": 1, "utc": true}, {"year": 2012, "month": 9, "date": 1, "utc": true}, {"year": 2012, "month": 10, "date": 1, "utc": true}, {"year": 2012, "month": 11, "date": 1, "utc": true}, {"year": 2012, "month": 12, "date": 1, "utc": true}]}},
    "y": {"field": "v", "type": "quantitative", "scale": {"domain": [5000, 10160], "nice": false, "zero": false},
     "axis": {"title": null, "values": [5000, 6000, 7000, 8000, 9000, 10000], "labelExpr": "'' + datum.value", "labelFont": "Liberation Serif", "labelFontWeight": "bold", "labelFontSize": 6.5, "labelColor": "#000000", "labelPadding": 5}},
    "color": {"field": "s", "type": "nominal",
     "scale": {"domain": ["2019", "2020", "2021", "2022", "2023"], "range": ["#a0a0a0", "#00b0f0", "#4472c4", "#1a1a1a", "#ff0000"]},
     "legend": {"title": null, "orient": "none", "legendX": 9, "legendY": 119, "direction": "horizontal", "symbolType": "stroke", "symbolSize": 196, "symbolStrokeWidth": 1.5, "labelFont": "Liberation Serif", "labelFontWeight": "bold", "labelFontSize": 6.5, "labelColor": "#000000", "labelOffset": 4, "columnPadding": 4}}
   }}
 ], "spacing": 0, "bounds": "flush", "resolve": {"scale": {"color": "independent"}}},
{"hconcat": [
  {"width": 220, "height": 2, "data": {"values": []}, "mark": "point"},
  {"width": 535, "height": 2, "view": {"fill": "#000000"}, "data": {"values": []}, "mark": "point"}
 ], "spacing": 0, "bounds": "flush"},
{"width": 802, "height": 30, "data": {"values": []}, "mark": "point",
 "title": {"text": "数据来源：银河期货、Mysteel", "offset": -15, "dx": 220, "fontSize": 8, "color": "#595959"}},
{"hconcat": [
  {"width": 480, "height": 33, "data": {"values": []}, "mark": "point",
   "title": {"text": "图5：72%FeSi内蒙硅铁现货价格（元/吨）", "offset": -24, "dx": 221, "fontSize": 12, "fontWeight": "bold", "color": "#1f3864"}},
  {"width": 322, "height": 33, "data": {"values": []}, "mark": "point",
   "title": {"text": "图6： 72%FeSi内蒙硅铁现货价格（元/吨）", "offset": -24, "dx": 10, "fontSize": 12, "fontWeight": "bold", "color": "#1f3864"}}
 ], "spacing": 0, "bounds": "flush"},
{"hconcat": [
  {"width": 220, "height": 2, "data": {"values": []}, "mark": "point"},
  {"width": 535, "height": 2, "view": {"fill": "#000000"}, "data": {"values": []}, "mark": "point"}
 ], "spacing": 0, "bounds": "flush"},
{"width": 1, "height": 20, "data": {"values": []}, "mark": "point"},
{"hconcat": [
  {"width": 247, "height": 154, "data": {"values": []}, "mark": "point"},
  {"width": 220, "height": 129, "data": {"name": "sispot"},
   "mark": {"type": "line", "strokeWidth": 1.2, "color": "#5b9bd5", "clip": true},
   "encoding": {
    "x": {"field": "d", "type": "temporal",
     "scale": {"type": "utc", "domain": [{"year": 2016, "month": 2, "date": 1, "utc": true}, {"year": 2023, "month": 6, "date": 9, "utc": true}]},
     "axis": {"title": null, "format": "%Y-%m", "labelFont": "Liberation Sans", "labelFontSize": 6, "labelColor": "#595959", "labelPadding": 7, "domain": true, "domainColor": "#d9d9d9", "domainWidth": 1,
      "values": [{"year": 2016, "month": 2, "date": 1, "utc": true}, {"year": 2017, "month": 2, "date": 1, "utc": true}, {"year": 2018, "month": 2, "date": 1, "utc": true}, {"year": 2019, "month": 2, "date": 1, "utc": true}, {"year": 2020, "month": 2, "date": 1, "utc": true}, {"year": 2021, "month": 2, "date": 1, "utc": true}, {"year": 2022, "month": 2, "date": 1, "utc": true}, {"year": 2023, "month": 2, "date": 1, "utc": true}]}},
    "y": {"field": "v", "type": "quantitative", "scale": {"domain": [4000, 20000], "nice": false, "zero": false},
     "axis": {"title": null, "values": [4000, 6000, 8000, 10000, 12000, 14000, 16000, 18000, 20000], "labelExpr": "'' + datum.value", "labelFont": "Liberation Sans", "labelFontSize": 6, "labelColor": "#595959", "labelPadding": 7}}
   }},
  {"width": 39, "height": 1, "data": {"values": []}, "mark": "point"},
  {"width": 231, "height": 100, "data": {"name": "siseason"},
   "mark": {"type": "line", "strokeWidth": 1.5, "clip": true},
   "encoding": {
    "x": {"field": "d", "timeUnit": "utcmonthdate", "type": "temporal",
     "scale": {"domain": [{"year": 2012, "month": 1, "date": 1, "utc": true}, {"year": 2012, "month": 12, "date": 31, "utc": true}]},
     "axis": {"title": null, "format": "%-m月", "labelFont": "Liberation Serif", "labelFontWeight": "bold", "labelFontSize": 6.5, "labelColor": "#000000", "labelPadding": 5,
      "values": [{"year": 2012, "month": 1, "date": 1, "utc": true}, {"year": 2012, "month": 2, "date": 1, "utc": true}, {"year": 2012, "month": 3, "date": 1, "utc": true}, {"year": 2012, "month": 4, "date": 1, "utc": true}, {"year": 2012, "month": 5, "date": 1, "utc": true}, {"year": 2012, "month": 6, "date": 1, "utc": true}, {"year": 2012, "month": 7, "date": 1, "utc": true}, {"year": 2012, "month": 8, "date": 1, "utc": true}, {"year": 2012, "month": 9, "date": 1, "utc": true}, {"year": 2012, "month": 10, "date": 1, "utc": true}, {"year": 2012, "month": 11, "date": 1, "utc": true}, {"year": 2012, "month": 12, "date": 1, "utc": true}]}},
    "y": {"field": "v", "type": "quantitative", "scale": {"domain": [4000, 12580], "nice": false, "zero": false},
     "axis": {"title": null, "values": [4000, 5000, 6000, 7000, 8000, 9000, 10000, 11000, 12000], "labelExpr": "'' + datum.value", "labelFont": "Liberation Serif", "labelFontWeight": "bold", "labelFontSize": 6.5, "labelColor": "#000000", "labelPadding": 5}},
    "color": {"field": "s", "type": "nominal",
     "scale": {"domain": ["2019", "2020", "2021", "2022", "2023"], "range": ["#a0a0a0", "#00b0f0", "#4472c4", "#1a1a1a", "#ff0000"]},
     "legend": {"title": null, "orient": "none", "legendX": 8, "legendY": 123, "direction": "horizontal", "symbolType": "stroke", "symbolSize": 196, "symbolStrokeWidth": 1.5, "labelFont": "Liberation Serif", "labelFontWeight": "bold", "labelFontSize": 6.5, "labelColor": "#000000", "labelOffset": 4, "columnPadding": 4}}
   }}
 ], "spacing": 0, "bounds": "flush", "resolve": {"scale": {"color": "independent"}}},
{"hconcat": [
  {"width": 220, "height": 2, "data": {"values": []}, "mark": "point"},
  {"width": 535, "height": 2, "view": {"fill": "#000000"}, "data": {"values": []}, "mark": "point"}
 ], "spacing": 0, "bounds": "flush"},
{"width": 802, "height": 30, "data": {"values": []}, "mark": "point",
 "title": {"text": "数据来源：银河期货、Mysteel", "offset": -16, "dx": 220, "fontSize": 8, "color": "#595959"}},
{"width": 1, "height": 110, "data": {"values": []}, "mark": "point"},
{"hconcat": [
  {"width": 379, "height": 30, "data": {"values": []}, "mark": "point"},
  {"width": 13, "height": 30, "data": {"values": []}, "mark": "point",
   "title": {"text": "2", "offset": -23, "font": "Liberation Sans", "fontSize": 19, "fontWeight": "bold", "color": "#1c2a48"}},
  {"width": 30, "height": 30, "data": {"values": []}, "mark": "point",
   "title": {"text": "/ 17", "offset": -20, "font": "Liberation Sans", "fontSize": 13, "fontWeight": "bold", "color": "#1c2a48"}}
 ], "spacing": 0, "bounds": "flush"}
]
}
